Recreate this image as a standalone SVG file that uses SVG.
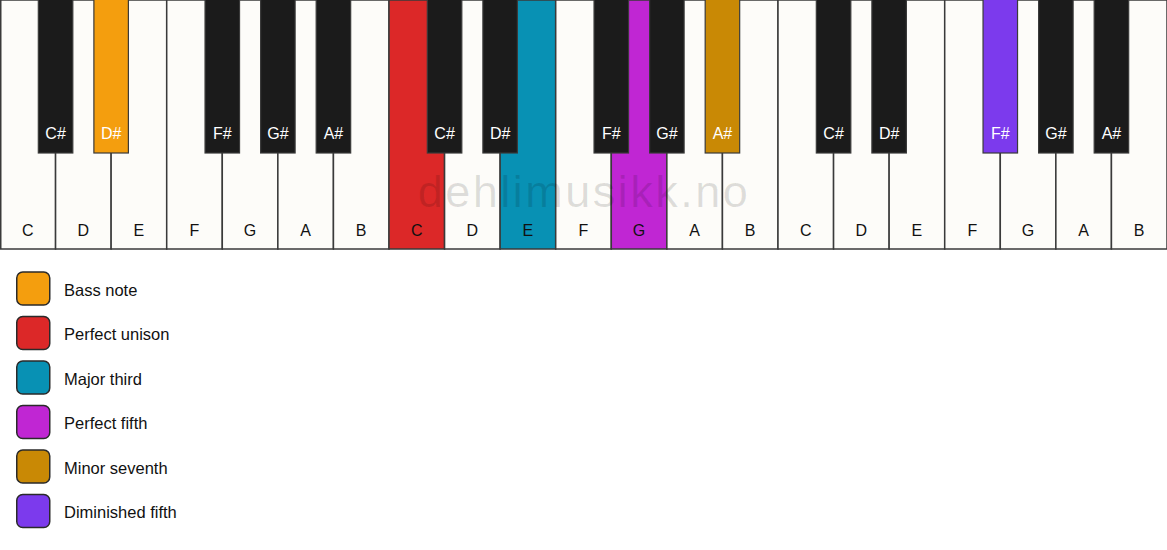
<svg xmlns="http://www.w3.org/2000/svg" width="1167" height="550" viewBox="0 0 1167 550">
<style>
.w{fill:#fdfcf9;stroke:#3a3a3a;stroke-width:1.5}
.b{fill:#1b1b1b;stroke:#3a3a3a;stroke-width:1.2}
.wl{font-family:"Liberation Sans",Arial,sans-serif;font-size:16px;fill:#111;text-anchor:middle}
.bl{font-family:"Liberation Sans",Arial,sans-serif;font-size:16px;fill:#fff;text-anchor:middle}
.lg{stroke:#2a2a2a;stroke-width:1.5}
.lt{font-family:"Liberation Sans",Arial,sans-serif;font-size:16.5px;fill:#111}
.wm{font-family:"Liberation Sans",Arial,sans-serif;font-size:45px;fill:#000;fill-opacity:0.12;text-anchor:middle;letter-spacing:2.5px}
</style>
<rect width="1167" height="550" fill="#ffffff"/>
<g id="white-keys">
<g id="w0"><rect class="w" x="0.75" y="0" width="54.82" height="249"/><text class="wl" x="27.79" y="236">C</text></g>
<g id="w1"><rect class="w" x="55.57" y="0" width="55.57" height="249"/><text class="wl" x="83.36" y="236">D</text></g>
<g id="w2"><rect class="w" x="111.14" y="0" width="55.57" height="249"/><text class="wl" x="138.93" y="236">E</text></g>
<g id="w3"><rect class="w" x="166.71" y="0" width="55.57" height="249"/><text class="wl" x="194.5" y="236">F</text></g>
<g id="w4"><rect class="w" x="222.29" y="0" width="55.57" height="249"/><text class="wl" x="250.07" y="236">G</text></g>
<g id="w5"><rect class="w" x="277.86" y="0" width="55.57" height="249"/><text class="wl" x="305.64" y="236">A</text></g>
<g id="w6"><rect class="w" x="333.43" y="0" width="55.57" height="249"/><text class="wl" x="361.21" y="236">B</text></g>
<g id="w7"><rect class="w" x="389" y="0" width="55.57" height="249" style="fill:#dc2828"/><text class="wl" x="416.79" y="236">C</text></g>
<g id="w8"><rect class="w" x="444.57" y="0" width="55.57" height="249"/><text class="wl" x="472.36" y="236">D</text></g>
<g id="w9"><rect class="w" x="500.14" y="0" width="55.57" height="249" style="fill:#0891b4"/><text class="wl" x="527.93" y="236">E</text></g>
<g id="w10"><rect class="w" x="555.71" y="0" width="55.57" height="249"/><text class="wl" x="583.5" y="236">F</text></g>
<g id="w11"><rect class="w" x="611.29" y="0" width="55.57" height="249" style="fill:#c026d3"/><text class="wl" x="639.07" y="236">G</text></g>
<g id="w12"><rect class="w" x="666.86" y="0" width="55.57" height="249"/><text class="wl" x="694.64" y="236">A</text></g>
<g id="w13"><rect class="w" x="722.43" y="0" width="55.57" height="249"/><text class="wl" x="750.21" y="236">B</text></g>
<g id="w14"><rect class="w" x="778" y="0" width="55.57" height="249"/><text class="wl" x="805.79" y="236">C</text></g>
<g id="w15"><rect class="w" x="833.57" y="0" width="55.57" height="249"/><text class="wl" x="861.36" y="236">D</text></g>
<g id="w16"><rect class="w" x="889.14" y="0" width="55.57" height="249"/><text class="wl" x="916.93" y="236">E</text></g>
<g id="w17"><rect class="w" x="944.71" y="0" width="55.57" height="249"/><text class="wl" x="972.5" y="236">F</text></g>
<g id="w18"><rect class="w" x="1000.29" y="0" width="55.57" height="249"/><text class="wl" x="1028.07" y="236">G</text></g>
<g id="w19"><rect class="w" x="1055.86" y="0" width="55.57" height="249"/><text class="wl" x="1083.64" y="236">A</text></g>
<g id="w20"><rect class="w" x="1111.43" y="0" width="55.57" height="249"/><text class="wl" x="1139.21" y="236">B</text></g>
</g>
<text id="watermark" class="wm" x="584" y="207">dehlimusikk.no</text>
<g id="black-keys">
<g id="b0"><rect class="b" x="38.32" y="-2" width="34.5" height="155"/><text class="bl" x="55.57" y="139">C#</text></g>
<g id="b1"><rect class="b" x="93.89" y="-2" width="34.5" height="155" style="fill:#f49e0e"/><text class="bl" x="111.14" y="139">D#</text></g>
<g id="b2"><rect class="b" x="205.04" y="-2" width="34.5" height="155"/><text class="bl" x="222.29" y="139">F#</text></g>
<g id="b3"><rect class="b" x="260.61" y="-2" width="34.5" height="155"/><text class="bl" x="277.86" y="139">G#</text></g>
<g id="b4"><rect class="b" x="316.18" y="-2" width="34.5" height="155"/><text class="bl" x="333.43" y="139">A#</text></g>
<g id="b5"><rect class="b" x="427.32" y="-2" width="34.5" height="155"/><text class="bl" x="444.57" y="139">C#</text></g>
<g id="b6"><rect class="b" x="482.89" y="-2" width="34.5" height="155"/><text class="bl" x="500.14" y="139">D#</text></g>
<g id="b7"><rect class="b" x="594.04" y="-2" width="34.5" height="155"/><text class="bl" x="611.29" y="139">F#</text></g>
<g id="b8"><rect class="b" x="649.61" y="-2" width="34.5" height="155"/><text class="bl" x="666.86" y="139">G#</text></g>
<g id="b9"><rect class="b" x="705.18" y="-2" width="34.5" height="155" style="fill:#c98905"/><text class="bl" x="722.43" y="139">A#</text></g>
<g id="b10"><rect class="b" x="816.32" y="-2" width="34.5" height="155"/><text class="bl" x="833.57" y="139">C#</text></g>
<g id="b11"><rect class="b" x="871.89" y="-2" width="34.5" height="155"/><text class="bl" x="889.14" y="139">D#</text></g>
<g id="b12"><rect class="b" x="983.04" y="-2" width="34.5" height="155" style="fill:#7c3aed"/><text class="bl" x="1000.29" y="139">F#</text></g>
<g id="b13"><rect class="b" x="1038.61" y="-2" width="34.5" height="155"/><text class="bl" x="1055.86" y="139">G#</text></g>
<g id="b14"><rect class="b" x="1094.18" y="-2" width="34.5" height="155"/><text class="bl" x="1111.43" y="139">A#</text></g>
</g>
<g id="legend">
<g id="lg-bass"><rect class="lg" x="16.75" y="272" width="33" height="33" rx="6" fill="#f49e0e"/><text class="lt" x="64" y="295.5">Bass note</text></g>
<g id="lg-unison"><rect class="lg" x="16.75" y="316.5" width="33" height="33" rx="6" fill="#dc2828"/><text class="lt" x="64" y="340">Perfect unison</text></g>
<g id="lg-third"><rect class="lg" x="16.75" y="361" width="33" height="33" rx="6" fill="#0891b4"/><text class="lt" x="64" y="384.5">Major third</text></g>
<g id="lg-fifth"><rect class="lg" x="16.75" y="405.5" width="33" height="33" rx="6" fill="#c026d3"/><text class="lt" x="64" y="429">Perfect fifth</text></g>
<g id="lg-seventh"><rect class="lg" x="16.75" y="450" width="33" height="33" rx="6" fill="#c98905"/><text class="lt" x="64" y="473.5">Minor seventh</text></g>
<g id="lg-dim"><rect class="lg" x="16.75" y="494.5" width="33" height="33" rx="6" fill="#7c3aed"/><text class="lt" x="64" y="518">Diminished fifth</text></g>
</g>
</svg>
